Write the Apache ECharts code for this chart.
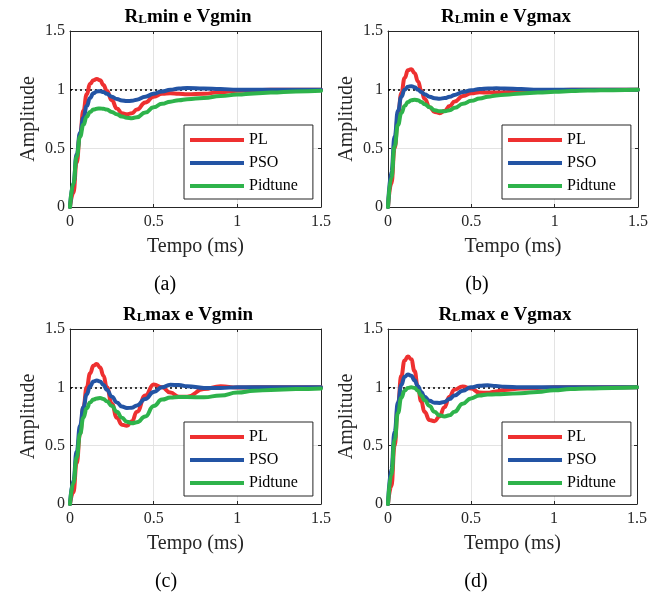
<!DOCTYPE html>
<html><head><meta charset="utf-8">
<script src="https://cdn.jsdelivr.net/npm/echarts@6/dist/echarts.min.js"></script>
<style>html,body{margin:0;padding:0;background:#fff}#c{width:659px;height:599px}</style>
</head><body><div id="c"></div>
<script>
// time (ms)
const t = [0,0.02,0.04,0.06,0.08,0.1,0.12,0.14,0.16,0.18,0.2,0.22,0.25,0.28,0.31,0.34,0.37,0.4,0.45,0.5,0.55,0.6,0.65,0.7,0.8,0.9,1.0,1.1,1.2,1.35,1.5];
const seriesNames = ['PL','PSO','Pidtune'];
const panelTitles = ['min e Vgmin','min e Vgmax','max e Vgmin','max e Vgmax'];
const captions = ['(a)','(b)','(c)','(d)'];
// (a) RLmin e Vgmin
const aPL  = [0,0.12,0.38,0.62,0.82,0.96,1.05,1.08,1.09,1.08,1.04,0.99,0.91,0.84,0.80,0.79,0.80,0.83,0.89,0.94,0.965,0.97,0.965,0.96,0.965,0.98,0.99,0.995,1.0,1.0,1.0];
const aPSO = [0,0.2,0.45,0.63,0.76,0.86,0.93,0.97,0.985,0.987,0.98,0.965,0.94,0.92,0.908,0.903,0.905,0.915,0.94,0.965,0.985,1.0,1.01,1.015,1.01,1.005,1.0,1.0,1.0,1.0,1.0];
const aPid = [0,0.2,0.43,0.6,0.7,0.77,0.81,0.83,0.838,0.84,0.837,0.83,0.81,0.79,0.772,0.76,0.757,0.765,0.805,0.85,0.88,0.898,0.91,0.918,0.93,0.945,0.958,0.968,0.976,0.985,0.99];
// (b) RLmin e Vgmax
const bPL  = [0,0.2,0.5,0.78,0.97,1.1,1.165,1.175,1.14,1.07,0.99,0.92,0.85,0.81,0.80,0.82,0.86,0.9,0.945,0.97,0.978,0.975,0.975,0.978,0.985,0.99,0.995,1.0,1.0,1.0,1.0];
const bPSO = [0,0.3,0.6,0.82,0.94,1.0,1.025,1.03,1.02,1.0,0.98,0.96,0.94,0.927,0.923,0.928,0.94,0.955,0.98,0.995,1.005,1.01,1.012,1.01,1.005,1.0,1.0,1.0,1.0,1.0,1.0];
const bPid = [0,0.25,0.52,0.7,0.8,0.86,0.895,0.91,0.914,0.91,0.895,0.875,0.85,0.825,0.815,0.815,0.825,0.845,0.88,0.905,0.925,0.94,0.95,0.957,0.967,0.975,0.982,0.988,0.992,0.996,1.0];
// (c) RLmax e Vgmin
const cPL  = [0,0.1,0.35,0.6,0.83,1.0,1.12,1.185,1.2,1.17,1.1,1.0,0.86,0.74,0.68,0.67,0.71,0.79,0.93,1.025,1.0,0.955,0.92,0.92,0.985,1.01,0.998,1.0,1.0,1.0,1.0];
const cPSO = [0,0.2,0.45,0.67,0.83,0.94,1.01,1.05,1.058,1.05,1.02,0.98,0.92,0.87,0.835,0.823,0.825,0.845,0.9,0.96,1.0,1.022,1.02,1.01,0.995,0.995,1.0,1.0,1.0,1.0,1.0];
const cPid = [0,0.18,0.4,0.6,0.74,0.82,0.87,0.895,0.905,0.908,0.9,0.88,0.84,0.79,0.74,0.705,0.693,0.70,0.75,0.84,0.895,0.912,0.917,0.917,0.915,0.93,0.955,0.97,0.978,0.985,0.99];
// (d) RLmax e Vgmax
const dPL  = [0,0.15,0.5,0.85,1.1,1.23,1.265,1.24,1.14,1.0,0.88,0.79,0.72,0.71,0.75,0.83,0.92,0.98,1.008,0.99,0.955,0.953,0.965,0.978,0.99,0.995,1.0,1.0,1.0,1.0,1.0];
const dPSO = [0,0.3,0.62,0.87,1.02,1.09,1.11,1.1,1.06,1.01,0.96,0.92,0.885,0.868,0.866,0.875,0.9,0.93,0.97,1.0,1.013,1.017,1.012,1.005,1.0,1.0,1.0,1.0,1.0,1.0,1.0];
const dPid = [0,0.25,0.55,0.78,0.91,0.97,0.995,1.0,0.995,0.97,0.93,0.89,0.84,0.79,0.76,0.75,0.76,0.79,0.86,0.905,0.93,0.938,0.94,0.942,0.95,0.96,0.975,0.985,0.99,0.995,1.0];

const panels = [[aPL,aPSO,aPid],[bPL,bPSO,bPid],[cPL,cPSO,cPid],[dPL,dPSO,dPid]];

// layout & style
const FONT = 'Liberation Serif';
const colors = ['#ee3030','#2354a4','#2eb34b'];
const grids = [
  {left:70, top:31, width:251, height:176},
  {left:388, top:31, width:250, height:176},
  {left:70, top:329, width:251, height:175},
  {left:388, top:329, width:249, height:175}
];
const titlePos = [[188,8],[506,8],[188,306],[505,306]];
const capPos = [[165,274],[477,274],[166,571],[476,571]];
const legendPos = [[184,125],[502,125],[184,422],[502,422]];
const AX = '#262626';

const xAxis = [], yAxis = [], series = [], title = [], legend = [];
grids.forEach((g, i) => {
  const lineC = {show:true, onZero:false, lineStyle:{color:AX, width:1}};
  const tick = {show:true, inside:true, length:3, lineStyle:{color:AX}};
  xAxis.push({gridIndex:i, type:'value', min:0, max:1.5, interval:0.5, position:'bottom',
    axisLine:lineC, axisTick:tick,
    axisLabel:{fontFamily:FONT, fontSize:16, color:AX, margin:7},
    splitLine:{show:true, lineStyle:{color:'#e3e3e3', width:1}},
    name:'Tempo (ms)', nameLocation:'middle', nameGap:30,
    nameTextStyle:{fontFamily:FONT, fontSize:20, color:AX}});
  xAxis.push({gridIndex:i, type:'value', min:0, max:1.5, interval:0.5, position:'top',
    axisLine:lineC, axisTick:tick, axisLabel:{show:false}, splitLine:{show:false}});
  yAxis.push({gridIndex:i, type:'value', min:0, max:1.5, interval:0.5, position:'left',
    axisLine:lineC, axisTick:tick,
    axisLabel:{fontFamily:FONT, fontSize:16, color:AX, margin:5},
    splitLine:{show:true, lineStyle:{color:'#e3e3e3', width:1}},
    name:'Amplitude', nameLocation:'middle', nameGap:31, nameRotate:90,
    nameTextStyle:{fontFamily:FONT, fontSize:20, color:AX}});
  yAxis.push({gridIndex:i, type:'value', min:0, max:1.5, interval:0.5, position:'right',
    axisLine:lineC, axisTick:tick, axisLabel:{show:false}, splitLine:{show:false}});
  panels[i].forEach((vals, k) => {
    const s = {type:'line', name:seriesNames[k], xAxisIndex:2*i, yAxisIndex:2*i,
      data:t.map((x, j) => [x, vals[j]]), showSymbol:false, symbol:'none',
      smooth:0.5, smoothMonotone:'x', color:colors[k],
      lineStyle:{color:colors[k], width:4, cap:'round', join:'round'}, emphasis:{disabled:true}, z:2+k};
    if (k === 0) {
      s.markLine = {silent:true, symbol:'none', z:1, label:{show:false},
        lineStyle:{color:'#000', type:[2,3], width:1.5}, data:[{yAxis:1}]};
    }
    series.push(s);
  });
  title.push({text:'{b|R}{s|L}{b|' + panelTitles[i] + '}', left:titlePos[i][0], top:titlePos[i][1],
    textAlign:'center', padding:0,
    textStyle:{rich:{
      b:{fontFamily:FONT, fontSize:19, fontWeight:'bold', color:'#000', verticalAlign:'middle'},
      s:{fontFamily:FONT, fontSize:13, fontWeight:'bold', color:'#000', verticalAlign:'middle', padding:[4,0,0,0]}}}});
  title.push({text:captions[i], left:capPos[i][0], top:capPos[i][1], textAlign:'center', padding:0,
    textStyle:{fontFamily:FONT, fontSize:20, fontWeight:'normal', color:'#000', lineHeight:22}});
  legend.push({data:seriesNames, left:legendPos[i][0], top:legendPos[i][1], orient:'vertical',
    icon:'rect', itemWidth:54, itemHeight:4, itemGap:5, selectedMode:false,
    padding:[6,15,4,6], backgroundColor:'#fff', borderColor:AX, borderWidth:1, borderRadius:0,
    textStyle:{fontFamily:FONT, fontSize:16, color:'#000', lineHeight:18}});
});

const chart = echarts.init(document.getElementById('c'), null, {renderer:'canvas'});
chart.setOption({
  backgroundColor:'#fff', animation:false,
  grid: grids.map(g => Object.assign({containLabel:false}, g)),
  xAxis, yAxis, series, title, legend
});
</script></body></html>
